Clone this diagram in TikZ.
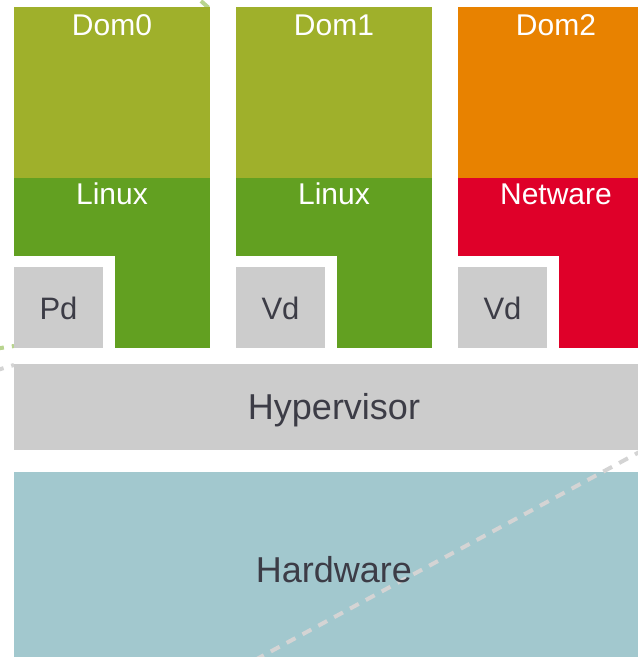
\documentclass[tikz,border=0pt]{standalone}
\usepackage{fontspec}
\setmainfont{Liberation Sans}
\definecolor{domlight}{HTML}{9FB02B}
\definecolor{linuxgreen}{HTML}{62A021}
\definecolor{domorange}{HTML}{E88200}
\definecolor{netred}{HTML}{DF0029}
\definecolor{boxgray}{HTML}{CCCCCC}
\definecolor{hwblue}{HTML}{A2C8CE}
\definecolor{txtdark}{HTML}{3C3C46}
\definecolor{dashgreen}{HTML}{B8D48E}
\definecolor{dashgray}{HTML}{D4D4D4}
\begin{document}
\begin{tikzpicture}[x=1pt,y=-1pt,
 domlabel/.style={anchor=base,text=white,font=\fontsize{30}{36}\selectfont},
 vdlabel/.style={anchor=base,text=txtdark,font=\fontsize{31}{37}\selectfont},
 layerlabel/.style={anchor=base,text=txtdark,font=\fontsize{36}{43}\selectfont},
 deco/.style={line width=4pt,dash pattern=on 10pt off 8pt}]
 \useasboundingbox (0,0) rectangle (638,657);
 \clip (0,0) rectangle (638,657);
 %
 \draw[deco,dashgreen] (201,1) -- (210,9);
 \draw[deco,dashgreen] (-6,349) -- (14,346);
 \draw[deco,dashgray] (-6,371) -- (14,365);
 %
 \fill[domlight] (14,7) rectangle (210,178);
 \fill[linuxgreen] (14,178) rectangle (210,348);
 \fill[white] (14,256) rectangle (115,348);
 \fill[boxgray] (14,267) rectangle (103,348);
 %
 \fill[domlight] (236,7) rectangle (432,178);
 \fill[linuxgreen] (236,178) rectangle (432,348);
 \fill[white] (236,256) rectangle (337,348);
 \fill[boxgray] (236,267) rectangle (325,348);
 %
 \fill[domorange] (458,7) rectangle (654,178);
 \fill[netred] (458,178) rectangle (654,348);
 \fill[white] (458,256) rectangle (559,348);
 \fill[boxgray] (458,267) rectangle (547,348);
 %
 \fill[boxgray] (14,364) rectangle (654,450);
 \fill[hwblue] (14,472) rectangle (654,660);
 %
 \draw[deco,dashgray] (255,660) -- (645,449);
 %
 \node[domlabel] (dom0) at (112,35) {Dom0};
 \node[domlabel] (dom1) at (334,35) {Dom1};
 \node[domlabel] (dom2) at (556,35) {Dom2};
 \node[domlabel] (linux0) at (112,204) {Linux};
 \node[domlabel] (linux1) at (334,204) {Linux};
 \node[domlabel] (netware) at (556,204) {Netware};
 \node[vdlabel] (pd) at (58.5,319) {Pd};
 \node[vdlabel] (vd1) at (280.5,319) {Vd};
 \node[vdlabel] (vd2) at (502.5,319) {Vd};
 \node[layerlabel] (hyper) at (334,419) {Hypervisor};
 \node[layerlabel] (hw) at (334,582) {Hardware};
\end{tikzpicture}
\end{document}
